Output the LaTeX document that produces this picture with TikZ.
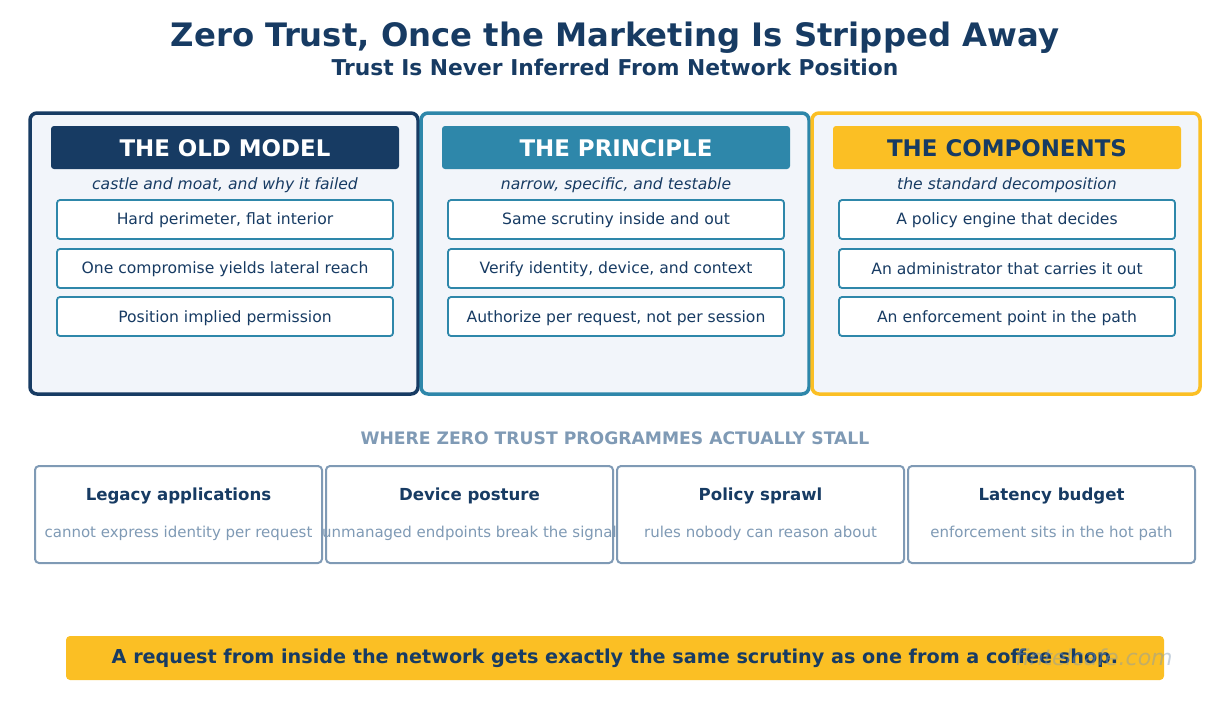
\documentclass[tikz,border=0pt]{standalone}
\usepackage{fontspec}
\setmainfont{DejaVu Sans}
\definecolor{navy}{HTML}{173B63}
\definecolor{teal}{HTML}{2E87AA}
\definecolor{gold}{HTML}{FBBF24}
\definecolor{slate}{HTML}{7F9AB5}
\definecolor{pale}{HTML}{F2F5FA}
\begin{document}
\begin{tikzpicture}[x=1pt,y=-1pt,
 panel/.style={draw=#1,line width=3.5pt,fill=pale,rounded corners=7pt},
 head/.style={fill=#1,rounded corners=3pt},
 item/.style={draw=teal,line width=1.8pt,fill=white,rounded corners=3pt},
 card/.style={draw=slate,line width=2pt,fill=white,rounded corners=4pt},
 txt/.style={text=navy,font=\fontsize{15.6}{18}\selectfont}]
\useasboundingbox (0,0) rectangle (1230,704);
\node[text=navy,font=\fontsize{32.3}{36}\selectfont\bfseries] (t) at (615,38) {Zero Trust, Once the Marketing Is Stripped Away};
\node[text=navy,font=\fontsize{21.8}{25}\selectfont\bfseries] (st) at (615,67) {Trust Is Never Inferred From Network Position};
\foreach \x/\c/\tc/\h/\s/\a/\b/\d [count=\i] in {
 30/navy/white/THE OLD MODEL/{castle and moat, and why it failed}/{Hard perimeter, flat interior}/{One compromise yields lateral reach}/{Position implied permission},
 421/teal/white/THE PRINCIPLE/{narrow, specific, and testable}/{Same scrutiny inside and out}/{Verify identity, device, and context}/{Authorize per request, not per session},
 812/gold/navy/THE COMPONENTS/{the standard decomposition}/{A policy engine that decides}/{An administrator that carries it out}/{An enforcement point in the path}}{
 \draw[panel=\c] (\x,113) rectangle ++(388,281);
 \fill[head=\c] (\x+21,126) rectangle ++(348,43);
 \node[text=\tc,font=\fontsize{22.9}{26}\selectfont\bfseries] (h\i) at (\x+195,148) {\h};
 \node[text=navy,font=\fontsize{15.6}{18}\selectfont\itshape] (s\i) at (\x+195,185) {\s};
 \draw[item] (\x+27,200) rectangle ++(336,39);
 \node[txt] (a\i) at (\x+195,220) {\a};
 \draw[item] (\x+27,249) rectangle ++(336,39);
 \node[txt] (b\i) at (\x+195,269) {\b};
 \draw[item] (\x+27,297) rectangle ++(336,39);
 \node[txt] (d\i) at (\x+195,318) {\d};
}
\node[text=slate,font=\fontsize{17.2}{20}\selectfont\bfseries] (w) at (615,438) {WHERE ZERO TRUST PROGRAMMES ACTUALLY STALL};
\foreach \x/\t/\d [count=\i] in {
 35/{Legacy applications}/{cannot express identity per request},
 326/{Device posture}/{unmanaged endpoints break the signal},
 617/{Policy sprawl}/{rules nobody can reason about},
 908/{Latency budget}/{enforcement sits in the hot path}}{
 \draw[card] (\x,466) rectangle ++(287,97);
 \node[text=navy,font=\fontsize{16.6}{19}\selectfont\bfseries] (c\i) at (\x+143.5,496) {\t};
 \node[text=slate,font=\fontsize{15}{17}\selectfont] (e\i) at (\x+143.5,533) {\d};
}
\fill[gold,rounded corners=4pt] (66,636) rectangle (1164,680);
\node[text=navy,font=\fontsize{19.2}{22}\selectfont\bfseries] (ban) at (615,658) {A request from inside the network gets exactly the same scrutiny as one from a coffee shop.};
\node[text=slate,opacity=0.45,font=\fontsize{22}{26}\selectfont\itshape] (wm) at (1094,657) {fintelcafe.com};
\end{tikzpicture}
\end{document}
